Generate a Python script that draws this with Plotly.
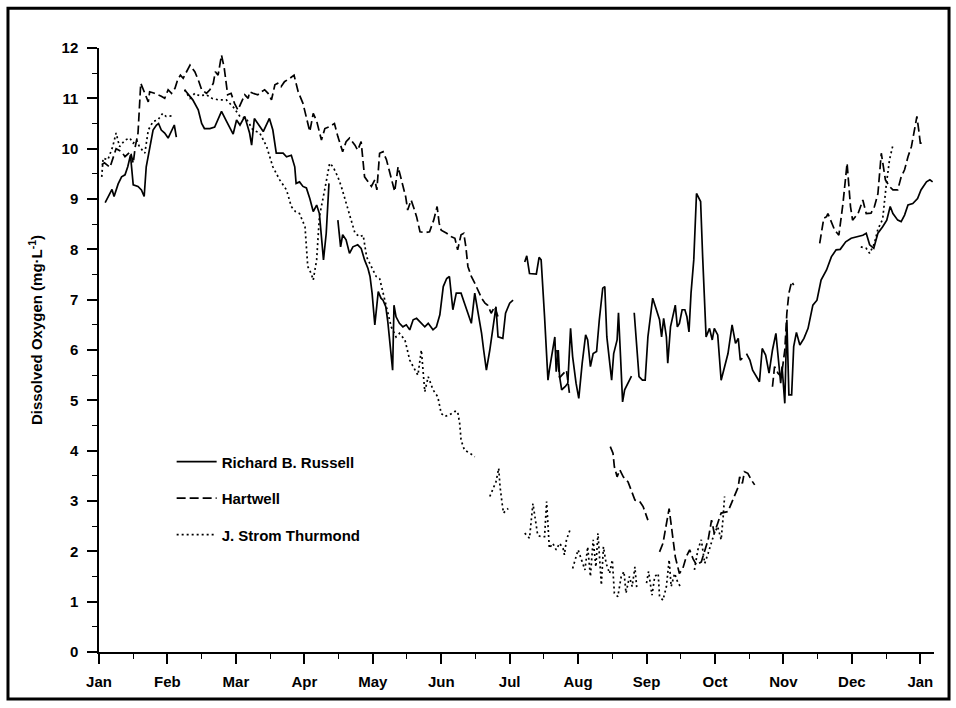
import plotly.graph_objects as go

# Time axis is in months since 1 January (each month drawn with equal width).
MONTH_LABELS = ["Jan", "Feb", "Mar", "Apr", "May", "Jun", "Jul",
                "Aug", "Sep", "Oct", "Nov", "Dec", "Jan"]

# ---- Richard B. Russell (solid) : record segments separated by data gaps ----
RUSSELL_MONTH = [
    [0.09, 0.16, 0.19, 0.22, 0.28, 0.33, 0.38, 0.42, 0.45, 0.46, 0.50, 0.57, 0.62,
     0.66, 0.69, 0.74, 0.79, 0.84, 0.87, 0.91, 0.96, 1.01, 1.06, 1.10, 1.13],
    [1.25, 1.37, 1.45, 1.50, 1.54, 1.62, 1.69, 1.79, 1.86, 1.96, 2.01, 2.06, 2.13,
     2.20, 2.23, 2.27, 2.32, 2.40, 2.49, 2.54, 2.59, 2.69, 2.74, 2.81, 2.86, 2.88,
     2.93, 2.98, 3.03, 3.08, 3.13, 3.18, 3.22, 3.28, 3.32, 3.36],
    [3.49, 3.53, 3.56, 3.61, 3.66, 3.71, 3.78, 3.83, 3.88, 3.93, 3.96, 3.99, 4.03,
     4.08, 4.12, 4.15, 4.19, 4.22, 4.29, 4.31, 4.34, 4.39, 4.44, 4.49, 4.54, 4.59,
     4.64, 4.69, 4.76, 4.81, 4.88, 4.93, 4.98, 5.03, 5.08, 5.12, 5.17, 5.22, 5.29,
     5.34, 5.39, 5.44, 5.49, 5.59, 5.62, 5.66, 5.71, 5.76, 5.80, 5.83, 5.90, 5.94,
     6.00, 6.05],
    [6.22, 6.25, 6.29, 6.39, 6.43, 6.46, 6.51, 6.56, 6.58, 6.62, 6.66, 6.68, 6.71,
     6.73, 6.76, 6.81, 6.85, 6.89, 6.92, 6.97, 7.01, 7.06, 7.11, 7.14, 7.18, 7.22,
     7.27, 7.31, 7.36, 7.39, 7.42, 7.49, 7.52, 7.57, 7.59, 7.62, 7.65, 7.68, 7.73,
     7.78],
    [7.82, 7.85, 7.89, 7.94, 7.98, 8.02, 8.07, 8.09, 8.13, 8.19, 8.22, 8.25, 8.29,
     8.31, 8.35, 8.39, 8.42, 8.45, 8.48, 8.52, 8.56, 8.59, 8.62, 8.65, 8.69, 8.73,
     8.79, 8.82, 8.87, 8.92, 8.96, 8.99, 9.04, 9.09, 9.14, 9.19, 9.25, 9.30, 9.34,
     9.37, 9.40],
    [9.46, 9.51, 9.55, 9.60, 9.65, 9.69, 9.74, 9.79, 9.84, 9.89, 9.96, 9.98, 10.02,
     10.05, 10.08, 10.12, 10.15, 10.19, 10.24, 10.30, 10.36, 10.43, 10.49, 10.55,
     10.63, 10.70, 10.77, 10.83, 10.91, 10.99, 11.06, 11.16, 11.21, 11.26, 11.32,
     11.38, 11.45, 11.51, 11.56, 11.60, 11.67, 11.72, 11.77, 11.82, 11.89, 11.96,
     12.01, 12.09, 12.14, 12.18],
]
RUSSELL_DO = [
    [8.93, 9.11, 9.19, 9.05, 9.30, 9.44, 9.48, 9.64, 9.81, 9.87, 9.28, 9.25, 9.18,
     9.05, 9.64, 10.04, 10.37, 10.47, 10.50, 10.37, 10.31, 10.21, 10.37, 10.47, 10.23],
    [11.17, 10.97, 10.77, 10.50, 10.40, 10.40, 10.43, 10.74, 10.55, 10.29, 10.57,
     10.47, 10.64, 10.31, 10.07, 10.60, 10.50, 10.34, 10.60, 10.37, 9.91, 9.91, 9.84,
     9.87, 9.64, 9.31, 9.34, 9.25, 9.22, 9.01, 8.75, 8.88, 8.71, 7.79, 8.32, 9.31],
    [8.58, 8.05, 8.29, 8.19, 7.92, 8.05, 8.09, 8.02, 7.79, 7.62, 7.46, 7.13, 6.50,
     7.16, 7.03, 6.99, 6.86, 6.56, 5.60, 6.89, 6.66, 6.53, 6.46, 6.50, 6.40, 6.60,
     6.63, 6.56, 6.46, 6.53, 6.40, 6.46, 6.70, 7.26, 7.42, 7.46, 6.80, 7.13, 7.13,
     6.93, 6.73, 6.53, 7.13, 6.33, 6.00, 5.60, 6.00, 6.46, 6.86, 6.26, 6.23, 6.73,
     6.93, 6.99],
    [7.75, 7.87, 7.52, 7.51, 7.84, 7.79, 6.66, 5.40, 5.60, 5.93, 6.26, 5.57, 6.00,
     5.47, 5.21, 5.27, 5.34, 6.43, 5.87, 5.34, 5.04, 5.74, 6.30, 6.20, 5.67, 5.93,
     5.97, 6.60, 7.23, 7.26, 6.26, 5.40, 5.93, 6.20, 6.74, 5.87, 4.97, 5.21, 5.34,
     5.48],
    [6.74, 6.26, 5.47, 5.40, 5.40, 6.26, 6.86, 7.03, 6.86, 6.60, 6.26, 6.63, 6.26,
     5.74, 6.46, 6.70, 6.89, 6.46, 6.53, 6.80, 6.80, 6.66, 6.36, 7.13, 7.79, 9.11,
     8.95, 7.85, 6.26, 6.43, 6.20, 6.43, 6.30, 5.40, 5.67, 5.93, 6.50, 6.13, 6.23,
     5.80, 5.84],
    [5.93, 5.80, 5.60, 5.47, 5.37, 6.03, 5.90, 5.54, 6.00, 6.33, 5.34, 5.67, 4.94,
     6.60, 5.11, 5.11, 6.07, 6.35, 6.10, 6.23, 6.43, 6.89, 6.99, 7.39, 7.59, 7.85,
     7.99, 8.00, 8.15, 8.22, 8.25, 8.28, 8.32, 8.09, 8.02, 8.32, 8.45, 8.58, 8.85,
     8.71, 8.58, 8.55, 8.68, 8.88, 8.91, 9.01, 9.18, 9.34, 9.38, 9.34],
]

# ---- Hartwell (dashed) ----
HARTWELL_MONTH = [
    [0.04, 0.08, 0.16, 0.20, 0.25, 0.33, 0.38, 0.46, 0.50, 0.53, 0.57, 0.61, 0.67,
     0.72, 0.74, 0.81, 0.91, 0.96, 1.01, 1.06, 1.11, 1.15, 1.19, 1.23, 1.33, 1.40,
     1.46, 1.50, 1.57, 1.62, 1.67, 1.70, 1.74, 1.79, 1.83, 1.88, 1.93, 1.98, 2.03,
     2.08, 2.13, 2.18, 2.20, 2.25, 2.32, 2.37, 2.42, 2.47, 2.52, 2.57, 2.61, 2.66,
     2.71, 2.79, 2.85, 2.91, 2.98, 3.08, 3.13, 3.18, 3.25, 3.30, 3.37, 3.44, 3.49,
     3.56, 3.61, 3.66, 3.74, 3.78, 3.83, 3.88, 3.93, 3.98, 4.03, 4.06, 4.10, 4.15,
     4.20, 4.27, 4.32, 4.37, 4.43, 4.48, 4.51, 4.56, 4.60, 4.64, 4.69, 4.76, 4.83,
     4.89, 4.94, 4.97, 5.00, 5.08, 5.15, 5.20, 5.24, 5.29, 5.33, 5.36, 5.39, 5.44,
     5.49, 5.54, 5.59, 5.64, 5.68, 5.73, 5.78, 5.83],
    [6.69, 6.73, 6.83, 6.88],
    [7.47, 7.51, 7.53, 7.57, 7.61, 7.66, 7.73, 7.78, 7.83, 7.90, 7.95, 8.02],
    [8.19, 8.24, 8.33, 8.36, 8.42, 8.48, 8.53, 8.58, 8.63, 8.68, 8.73, 8.80, 8.85,
     8.90, 8.95, 8.99, 9.04, 9.09, 9.19, 9.24, 9.29, 9.34, 9.36, 9.40, 9.43, 9.48,
     9.53, 9.58],
    [9.84, 9.87, 9.92, 9.97, 10.02, 10.05, 10.08, 10.12, 10.15],
    [10.53, 10.59, 10.63, 10.65, 10.75, 10.81, 10.87, 10.93, 10.98, 11.01, 11.09,
     11.16, 11.21, 11.28, 11.33, 11.38, 11.43, 11.49, 11.55, 11.60, 11.67, 11.72,
     11.77, 11.82, 11.87, 11.92, 11.95, 11.98, 12.00, 12.06],
]
HARTWELL_DO = [
    [9.68, 9.72, 9.63, 9.78, 10.00, 9.94, 9.84, 9.94, 9.71, 10.04, 10.31, 11.30,
     11.10, 10.93, 11.13, 11.10, 11.04, 11.00, 11.17, 11.10, 11.20, 11.37, 11.46,
     11.40, 11.66, 11.53, 11.33, 11.17, 11.10, 11.17, 11.30, 11.53, 11.46, 11.86,
     11.60, 11.07, 11.10, 10.90, 10.77, 10.93, 11.07, 11.00, 11.13, 11.10, 11.07,
     11.13, 11.17, 11.10, 10.97, 11.27, 11.30, 11.23, 11.33, 11.40, 11.46, 11.13,
     10.90, 10.34, 10.70, 10.55, 10.17, 10.40, 10.44, 10.50, 10.24, 9.94, 10.14,
     10.21, 10.07, 9.97, 10.14, 9.44, 9.34, 9.25, 9.38, 9.18, 9.91, 9.94, 9.78,
     9.44, 9.15, 9.64, 9.31, 9.05, 8.78, 8.98, 8.82, 8.65, 8.35, 8.33, 8.35, 8.58,
     8.85, 8.52, 8.38, 8.32, 8.25, 8.22, 7.99, 8.29, 8.32, 8.05, 7.66, 7.46, 7.33,
     7.19, 7.03, 6.93, 6.89, 6.73, 6.86, 6.66],
    [6.00, 5.45, 5.60, 5.07],
    [4.08, 3.95, 3.68, 3.48, 3.62, 3.48, 3.38, 3.18, 3.02, 2.99, 2.89, 2.62],
    [1.99, 2.16, 2.85, 2.49, 1.89, 1.56, 1.66, 1.89, 2.03, 1.85, 1.73, 1.79, 2.03,
     2.23, 2.62, 2.36, 2.56, 2.76, 2.79, 2.95, 3.09, 3.28, 3.48, 3.35, 3.58, 3.55,
     3.42, 3.32],
    [5.27, 5.67, 5.54, 5.47, 6.00, 6.73, 7.13, 7.36, 7.29],
    [8.12, 8.62, 8.65, 8.71, 8.38, 8.28, 8.91, 9.71, 8.85, 8.58, 8.71, 8.98, 8.71,
     8.72, 8.85, 9.10, 9.91, 9.38, 9.25, 9.18, 9.18, 9.44, 9.58, 9.84, 10.04, 10.44,
     10.64, 10.34, 10.11, 10.11],
]

# ---- J. Strom Thurmond (dotted) ----
THURMOND_MONTH = [
    [0.04, 0.06, 0.13, 0.20, 0.25, 0.30, 0.38, 0.45, 0.50, 0.55, 0.59, 0.67, 0.72,
     0.79, 0.86, 0.93, 0.98, 1.06],
    [1.25, 1.33, 1.40, 1.47, 1.57, 1.65, 1.74, 1.86, 1.96, 2.06, 2.15, 2.25, 2.35,
     2.45, 2.54, 2.64, 2.74, 2.81, 2.87, 2.93, 3.01, 3.05, 3.10, 3.13, 3.18, 3.22,
     3.30, 3.37, 3.42, 3.49, 3.54, 3.61, 3.66, 3.74, 3.81, 3.86, 3.91, 3.98, 4.05,
     4.10, 4.15, 4.22, 4.27, 4.34, 4.39, 4.47, 4.54, 4.59, 4.66, 4.71, 4.76, 4.81,
     4.88, 4.95, 5.00, 5.05, 5.12, 5.20, 5.24, 5.27, 5.29, 5.34, 5.42, 5.49],
    [5.71, 5.76, 5.80, 5.84, 5.86, 5.89, 5.91, 5.95, 5.98],
    [6.22, 6.29, 6.34, 6.38, 6.41, 6.46, 6.51, 6.54, 6.56, 6.58, 6.63, 6.68, 6.73,
     6.78, 6.80, 6.83, 6.88],
    [6.92, 7.00, 7.05, 7.10, 7.14, 7.18, 7.22, 7.26, 7.29, 7.34, 7.37, 7.41, 7.46,
     7.50, 7.53, 7.58, 7.63, 7.67, 7.70, 7.75, 7.79, 7.83, 7.86],
    [8.00, 8.03, 8.08, 8.12, 8.17, 8.19, 8.24, 8.29, 8.33, 8.36, 8.41, 8.46, 8.51],
    [8.70, 8.75, 8.80, 8.85, 8.90, 8.95, 8.99, 9.04, 9.09, 9.12, 9.14],
    [11.13, 11.21, 11.26, 11.33, 11.38, 11.45, 11.50, 11.55, 11.60],
]
THURMOND_DO = [
    [9.44, 9.81, 9.78, 10.04, 10.31, 10.04, 10.17, 10.21, 10.11, 10.17, 10.04, 9.91,
     10.37, 10.54, 10.57, 10.70, 10.64, 10.65],
    [11.17, 11.00, 11.10, 11.05, 11.07, 11.00, 10.97, 10.97, 10.83, 10.64, 10.60,
     10.37, 10.31, 10.04, 9.64, 9.38, 9.18, 8.85, 8.75, 8.71, 8.45, 7.66, 7.52, 7.39,
     7.79, 8.65, 9.20, 9.71, 9.64, 9.44, 9.25, 8.91, 8.71, 8.32, 8.25, 8.28, 7.85,
     7.66, 7.46, 7.42, 7.13, 6.73, 6.46, 6.26, 6.33, 6.20, 5.80, 5.67, 5.50, 6.00,
     5.17, 5.47, 5.21, 5.07, 4.74, 4.68, 4.71, 4.78, 4.78, 4.54, 4.21, 4.01, 3.95,
     3.88],
    [3.09, 3.25, 3.38, 3.65, 3.28, 2.95, 2.76, 2.82, 2.85],
    [2.36, 2.26, 2.95, 2.62, 2.32, 2.29, 2.29, 2.99, 2.62, 2.06, 2.16, 2.03, 2.16,
     2.06, 1.93, 2.23, 2.42],
    [1.66, 2.03, 1.83, 1.63, 2.09, 1.50, 2.23, 1.69, 2.36, 1.33, 2.09, 1.76, 1.56,
     1.83, 1.17, 1.10, 1.50, 1.60, 1.17, 1.50, 1.30, 1.69, 1.23],
    [1.37, 1.60, 1.13, 1.50, 1.56, 1.10, 1.03, 1.30, 1.83, 1.30, 1.56, 1.37, 1.27],
    [1.63, 2.03, 2.23, 1.76, 1.96, 2.16, 2.36, 2.49, 2.23, 2.69, 3.09],
    [8.05, 8.02, 7.92, 8.12, 8.40, 8.60, 9.25, 9.78, 10.07],
]

FONT = "Liberation Sans, Arial, Helvetica, sans-serif"


def joined(month_segments, value_segments):
    """Concatenate record segments, leaving a None break between them."""
    xs, ys = [], []
    for m, v in zip(month_segments, value_segments):
        xs += m + [None]
        ys += v + [None]
    return xs, ys


series = [
    ("Richard B. Russell", RUSSELL_MONTH, RUSSELL_DO, "solid", 1.7),
    ("Hartwell", HARTWELL_MONTH, HARTWELL_DO, "9px,4px", 1.7),
    ("J. Strom Thurmond", THURMOND_MONTH, THURMOND_DO, "2px,3px", 1.7),
]

fig = go.Figure()
for name, months, values, dash, width in series:
    xs, ys = joined(months, values)
    fig.add_trace(go.Scatter(
        x=xs, y=ys, name=name, mode="lines", connectgaps=False,
        legendgroup=name,
        line=dict(color="black", width=width, dash=dash),
    ))

axis_common = dict(
    showline=True, linecolor="black", linewidth=1.5,
    ticks="outside", ticklen=10, tickwidth=1.5, tickcolor="black",
    showgrid=False, zeroline=False,
    tickfont=dict(family=FONT, size=15, color="black", weight="bold"),
)

fig.update_xaxes(
    range=[0, 12.2],
    tickvals=list(range(len(MONTH_LABELS))),
    ticktext=MONTH_LABELS,
    minor=dict(tickvals=[i + 0.5 for i in range(12)], ticks="outside",
               ticklen=5, tickwidth=1.3, tickcolor="black"),
    ticklabelstandoff=5,
    **axis_common,
)
fig.update_yaxes(
    range=[0, 12], dtick=1, tick0=0,
    minor=dict(dtick=0.5, ticks="outside", ticklen=5, tickwidth=1.3,
               tickcolor="black"),
    ticklabelstandoff=6,
    **axis_common,
)

fig.update_layout(
    width=956, height=708,
    margin=dict(l=99, r=22, t=48, b=56),
    paper_bgcolor="white", plot_bgcolor="white",
    font=dict(family=FONT, size=15, color="black"),
    showlegend=True,
    legend=dict(
        x=0.087, y=0.342, xanchor="left", yanchor="top",
        bgcolor="rgba(0,0,0,0)", borderwidth=0,
        traceorder="grouped", tracegroupgap=14, itemwidth=40,
        font=dict(family=FONT, size=15, color="black", weight="bold"),
    ),
    annotations=[dict(
        text="Dissolved Oxygen (mg·L<sup>-1</sup>)",
        xref="paper", yref="paper", x=-0.0766, y=0.533,
        xanchor="center", yanchor="middle", textangle=-90, showarrow=False,
        font=dict(family=FONT, size=15, color="black", weight="bold"),
    )],
    shapes=[dict(
        type="rect", xref="paper", yref="paper",
        x0=-0.109, x1=1.018, y0=-0.078, y1=1.066,
        line=dict(color="black", width=3), fillcolor="rgba(0,0,0,0)",
    )],
)

fig.write_html("out.html")
